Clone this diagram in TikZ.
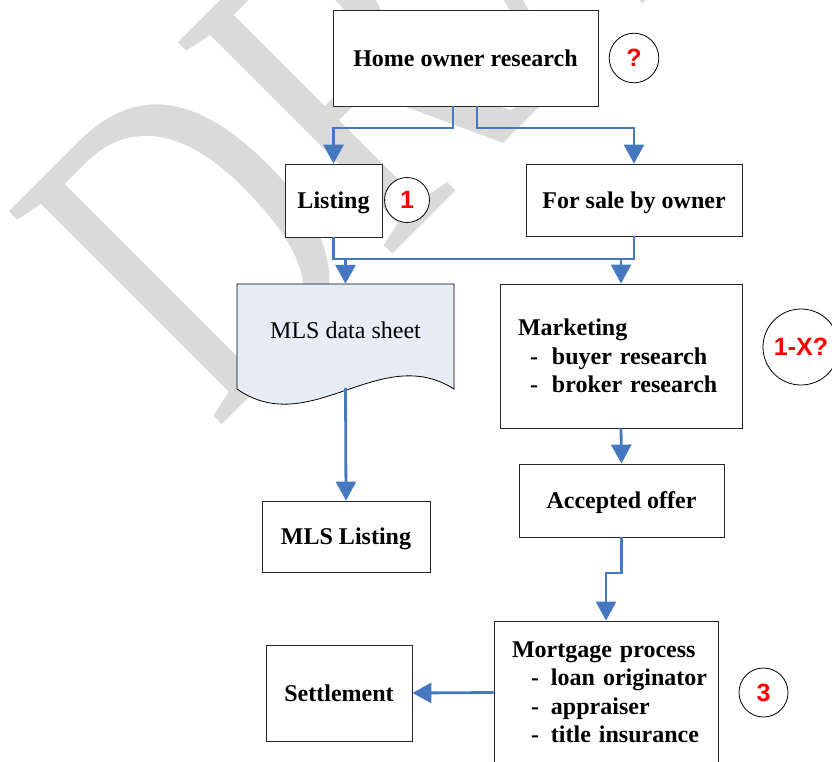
\documentclass[tikz,border=0pt]{standalone}
\usepackage{fontspec}
\setmainfont{Liberation Serif}
\newfontfamily\badgefont{Liberation Sans}
\usetikzlibrary{arrows.meta}
\definecolor{flowblue}{RGB}{70,120,193}
\definecolor{sheetblue}{RGB}{231,237,247}
\definecolor{wmgray}{RGB}{218,218,218}
\newcommand\mkitem[1]{\mbox{\hspace*{12pt}-\hspace*{14pt}#1}}
\newcommand\mgitem[1]{\mbox{\hspace*{19pt}-\hspace*{12pt}#1}}
\begin{document}
\begin{tikzpicture}[x=1pt,y=-1pt,
  box/.style={draw=black!85, line width=0.8pt, fill=white,
    font=\fontsize{24}{28.5}\selectfont\bfseries, align=center, inner sep=0pt,
    text height=16pt, text depth=0pt},
  listbox/.style={draw=black!85, line width=0.8pt, fill=white,
    font=\fontsize{24}{28.5}\selectfont\bfseries, align=left, inner ysep=0pt, inner xsep=18pt},
  badge/.style={circle, draw=black, line width=0.8pt, fill=white, inner sep=0pt,
    text=red, font=\badgefont\fontsize{25}{25}\selectfont\bfseries},
  flow/.style={draw=flowblue, line width=2.8pt, -{Triangle[width=20pt,length=19pt]}},
  bus/.style={draw=flowblue, line width=2.8pt},
]
\useasboundingbox (0,0) rectangle (832,761);
\clip (0,0) rectangle (832,761);

% watermark
\node[rotate=45, anchor=base west, inner sep=0pt, text=wmgray,
  font=\fontsize{460}{460}\selectfont] (wm) at (215,432) {\scalebox{0.72}[1]{DRAFT}};

% boxes
\node[box, minimum width=265pt, minimum height=96pt] (home) at (465.5,58) {Home owner research};
\node[box, minimum width=97pt, minimum height=73pt] (listing) at (333.5,200.5) {Listing};
\node[box, minimum width=216pt, minimum height=72pt] (forsale) at (634,200) {For sale by owner};

\path[draw=black, line width=0.8pt, fill=sheetblue]
  (237,284) -- (454,284) -- (454,389) .. controls (380,342) and (310,440) .. (237,389) -- cycle;
\node[minimum width=217pt, minimum height=104pt, inner sep=0pt] (mlsbox) at (345.5,336) {};
\node[font=\fontsize{24}{28.5}\selectfont, inner sep=0pt, text height=16pt, text depth=0pt]
  (mlstext) at (345.5,330) {MLS data sheet};

\node[listbox, text width=206pt, minimum height=144pt] (marketing) at (621,356)
  {Marketing\\\mkitem{buyer research}\\\mkitem{broker research}};
\node[box, minimum width=205pt, minimum height=73pt] (accepted) at (621.5,500.5) {Accepted offer};
\node[box, minimum width=168pt, minimum height=71pt] (mlslisting) at (346,536.5) {MLS Listing};
\node[listbox, text width=188pt, minimum height=143pt] (mortgage) at (606,692.5)
  {Mortgage process\\\mgitem{loan originator}\\\mgitem{appraiser}\\\mgitem{title insurance}};
\node[box, minimum width=146pt, minimum height=96pt] (settlement) at (339,693) {Settlement};

% badges
\node[badge, minimum size=49.6pt] (bq) at (634,58) {?};
\node[badge, minimum size=45pt] (b1) at (407,200) {1};
\node[badge, minimum size=76pt] (b1x) at (801,347) {1-X?};
\node[badge, minimum size=49pt] (b3) at (763.5,692.5) {3};

% junctions
\coordinate (j1) at (453,128);
\coordinate (j2) at (477,128);
\coordinate (busL) at (333.5,259);
\coordinate (busR) at (634,259);
\coordinate (j3) at (606,573);

% connectors
\draw[flow] (home.south -| j1) -- (j1) -| (listing.north);
\draw[flow] (home.south -| j2) -- (j2) -| (forsale.north);
\draw[bus] (listing.south) -- (busL) -- (busR) -- (forsale.south);
\draw[flow] (busL -| mlsbox.north) -- (mlsbox.north);
\draw[flow] (busL -| marketing.north) -- (marketing.north);
\draw[flow] (mlsbox.south) -- (mlslisting.north);
\draw[flow] (marketing.south) -- (accepted.north);
\draw[flow] (accepted.south) |- (j3) -- (mortgage.north);
\draw[flow] (mortgage.west) -- (settlement.east);
\end{tikzpicture}
\end{document}
